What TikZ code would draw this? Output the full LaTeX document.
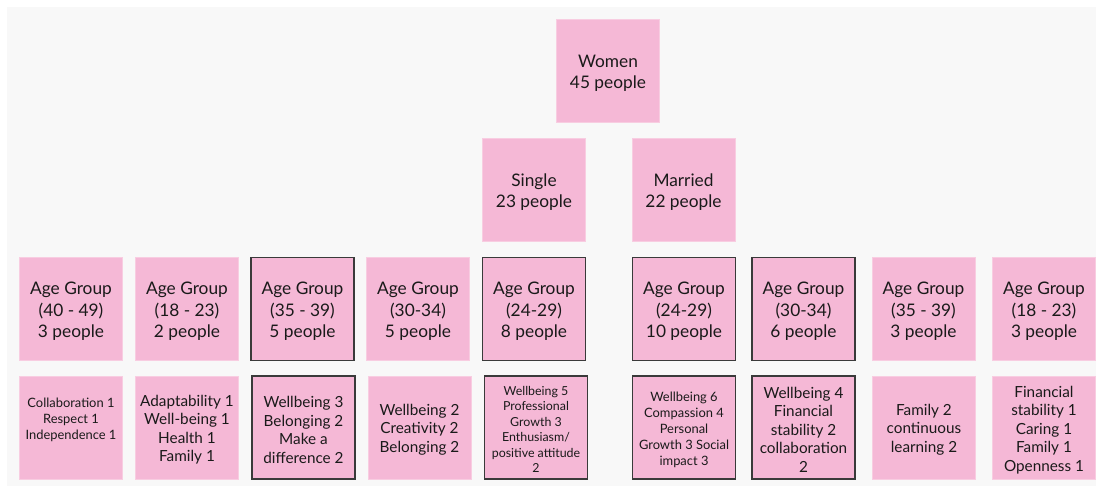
\documentclass[tikz,border=0pt]{standalone}
\usepackage{fontspec}
\setmainfont{Lato}
\definecolor{canvas}{HTML}{F8F8F8}
\definecolor{sticky}{HTML}{F5B8D6}
\definecolor{stickyedge}{HTML}{F8CDE1}
\definecolor{ink}{HTML}{1A1A1A}
\definecolor{frame}{HTML}{3A3A3A}
% a taller first line sets each text block slightly lower in its note
\newcommand{\headroom}{\rule{0pt}{1em}}
\tikzset{
  note/.style={rectangle, fill=sticky, draw=stickyedge, line width=0.8pt,
    minimum width=103pt, minimum height=103pt, inner sep=2pt,
    align=center, text=ink},
  framed/.style={draw=frame, line width=1.4pt},
  big/.style={font=\fontsize{17.3}{21.5}\selectfont},
  mid/.style={font=\fontsize{15.3}{18.5}\selectfont},
  small/.style={font=\fontsize{12.9}{16}\selectfont},
  tiny/.style={font=\fontsize{12.4}{15.5}\selectfont},
}
\begin{document}
\begin{tikzpicture}[x=1pt,y=1pt]
\useasboundingbox (0,0) rectangle (1096,486);
\fill[canvas] (7,0) rectangle (1096,479);

% top levels
\node[note,big] (women) at (608,415) {\headroom Women\\45 people};
\node[note,big] (single) at (534,296) {\headroom Single\\23 people};
\node[note,big] (married) at (683.5,296) {\headroom Married\\22 people};

% age groups
\node[note,big] (a1) at (71,177) {\headroom Age Group\\(40 - 49)\\3 people};
\node[note,big] (a2) at (187,177) {\headroom Age Group\\(18 - 23)\\2 people};
\node[note,big,framed] (a3) at (302.5,177) {\headroom Age Group\\(35 - 39)\\5 people};
\node[note,big] (a4) at (418,177) {\headroom Age Group\\(30-34)\\5 people};
\node[note,big,framed] (a5) at (534,177) {\headroom Age Group\\(24-29)\\8 people};
\node[note,big,framed] (a6) at (684,177) {\headroom Age Group\\(24-29)\\10 people};
\node[note,big,framed] (a7) at (803.5,177) {\headroom Age Group\\(30-34)\\6 people};
\node[note,big] (a8) at (923.5,177) {\headroom Age Group\\(35 - 39)\\3 people};
\node[note,big] (a9) at (1044,177) {\headroom Age Group\\(18 - 23)\\3 people};

% values per age group
\node[note,small] (v1) at (71,58.3) {\headroom Collaboration 1\\Respect 1\\Independence 1\\\strut};
\node[note,mid] (v2) at (187,58.3) {\headroom Adaptability 1\\Well-being 1\\Health 1\\Family 1};
\node[note,mid,framed] (v3) at (303.5,58.3) {\headroom Wellbeing 3\\Belonging 2\\Make a\\difference 2};
\node[note,mid] (v4) at (419.5,58.3) {\headroom Wellbeing 2\\Creativity 2\\Belonging 2};
\node[note,tiny,framed] (v5) at (536,58.3) {\headroom Wellbeing 5\\Professional\\Growth 3\\Enthusiasm/\\positive attitude\\2};
\node[note,small,framed] (v6) at (684,58.3) {\headroom Wellbeing 6\\Compassion 4\\Personal\\Growth 3 Social\\impact 3};
\node[note,mid,framed] (v7) at (803.5,58.3) {\headroom Wellbeing 4\\Financial\\stability 2\\collaboration\\2};
\node[note,mid] (v8) at (924,58.3) {\headroom Family 2\\continuous\\learning 2};
\node[note,mid] (v9) at (1044,58.3) {\headroom Financial\\stability 1\\Caring 1\\Family 1\\Openness 1};
\end{tikzpicture}
\end{document}
